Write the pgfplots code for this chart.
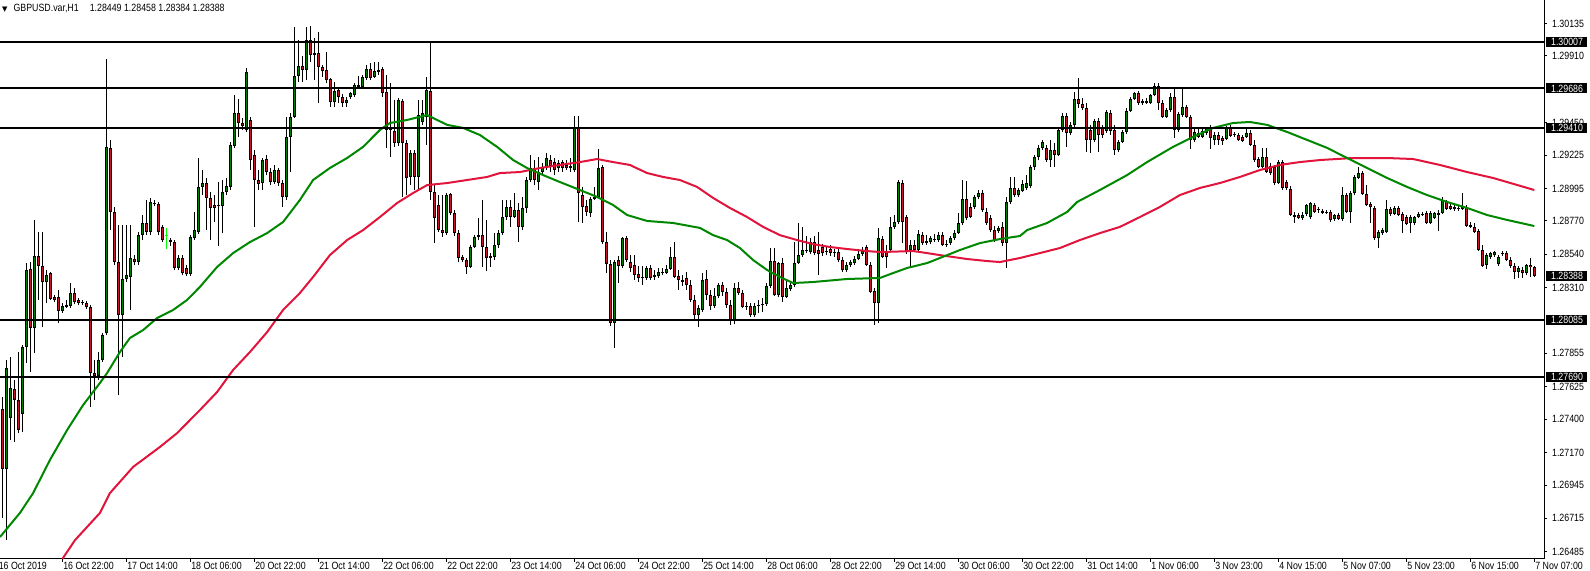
\documentclass[border=0pt]{standalone}
\usepackage{fontspec}
\setmainfont{Liberation Sans}[FakeStretch=0.84]
\newfontfamily\symfont{DejaVu Sans}
\usepackage{pgfplots}
\usepackage{pgfplotstable}
\pgfplotsset{compat=1.18}
\definecolor{bull}{RGB}{0,128,0}
\definecolor{bear}{RGB}{200,20,40}
\definecolor{magreen}{RGB}{0,135,0}
\definecolor{mared}{RGB}{225,20,60}
\definecolor{marked}{RGB}{0,255,0}
\newcommand\tinyfont{\fontsize{5.25}{6}\selectfont}

% GBPUSD H1 candles: bar index, open, high, low, close
\pgfplotstableread{
i o h l c
0 1.27471 1.27554 1.26718 1.27056
1 1.27056 1.27809 1.26565 1.27754
2 1.27408 1.27830 1.27256 1.27616
3 1.27609 1.27671 1.27242 1.27533
4 1.27533 1.27864 1.27304 1.27325
5 1.27435 1.27912 1.27311 1.27899
6 1.27899 1.28479 1.27788 1.28431
7 1.28438 1.28486 1.27726 1.28030
8 1.28030 1.28777 1.27857 1.28528
9 1.28528 1.28693 1.28224 1.28459
10 1.28459 1.28693 1.28037 1.28348
11 1.28348 1.28431 1.28203 1.28396
12 1.28410 1.28417 1.28224 1.28231
13 1.28245 1.28258 1.28210 1.28224
14 1.28245 1.28293 1.28064 1.28148
15 1.28148 1.28203 1.28134 1.28183
16 1.28176 1.28224 1.28169 1.28189
17 1.28183 1.28341 1.28169 1.28272
18 1.28272 1.28307 1.28196 1.28210
19 1.28224 1.28238 1.28189 1.28203
20 1.28203 1.28224 1.28189 1.28210
21 1.28203 1.28217 1.28162 1.28176
22 1.28176 1.28189 1.27485 1.27719
23 1.27719 1.27809 1.27533 1.27699
24 1.27699 1.27864 1.27671 1.27809
25 1.27809 1.27995 1.27795 1.27981
26 1.27995 1.29890 1.27981 1.29282
27 1.29275 1.29330 1.28707 1.28832
28 1.28832 1.28867 1.28465 1.28486
29 1.28486 1.28742 1.27567 1.28120
30 1.28120 1.28742 1.27830 1.28369
31 1.28369 1.28742 1.28348 1.28396
32 1.28383 1.28742 1.28155 1.28514
33 1.28507 1.28534 1.28465 1.28486
34 1.28486 1.28693 1.28465 1.28672
35 1.28672 1.28811 1.28638 1.28756
36 1.28756 1.28915 1.28672 1.28693
37 1.28693 1.28929 1.28672 1.28901
38 1.28887 1.28915 1.28874 1.28894
39 1.28887 1.28901 1.28672 1.28693
40 1.28729 1.28742 1.28624 1.28638
41 1.28672 1.28722 1.28576 1.28666
42 1.28638 1.28652 1.28597 1.28624
43 1.28624 1.28638 1.28431 1.28445
44 1.28445 1.28534 1.28431 1.28514
45 1.28514 1.28534 1.28396 1.28410
46 1.28445 1.28465 1.28389 1.28403
47 1.28403 1.28672 1.28389 1.28659
48 1.28652 1.28832 1.28638 1.28707
49 1.28693 1.29205 1.28679 1.29005
50 1.29005 1.29122 1.28949 1.29032
51 1.29032 1.29067 1.28707 1.28929
52 1.28929 1.28970 1.28638 1.28860
53 1.28880 1.28949 1.28763 1.28860
54 1.28874 1.29039 1.28597 1.28880
55 1.28874 1.29053 1.28686 1.28970
56 1.28970 1.29067 1.28949 1.29012
57 1.29005 1.29316 1.28984 1.29295
58 1.29289 1.29640 1.29275 1.29516
59 1.29516 1.29613 1.29351 1.29447
60 1.29447 1.29482 1.29399 1.29427
61 1.29399 1.29827 1.29385 1.29799
62 1.29468 1.29489 1.29122 1.29191
63 1.29225 1.29260 1.28729 1.29053
64 1.29053 1.29122 1.28984 1.29025
65 1.29032 1.29205 1.28984 1.29191
66 1.29198 1.29225 1.29087 1.29108
67 1.29108 1.29136 1.29018 1.29039
68 1.29039 1.29157 1.29025 1.29122
69 1.29122 1.29136 1.29012 1.29032
70 1.29032 1.29053 1.28867 1.28936
71 1.28936 1.29489 1.28915 1.29351
72 1.29351 1.29516 1.29108 1.29489
73 1.29489 1.30111 1.29482 1.29772
74 1.29772 1.30021 1.29730 1.29841
75 1.29841 1.29911 1.29730 1.29813
76 1.29813 1.30111 1.29744 1.30021
77 1.30021 1.30118 1.29868 1.29917
78 1.29917 1.30035 1.29744 1.29931
79 1.29931 1.30076 1.29585 1.29834
80 1.29834 1.29847 1.29765 1.29806
81 1.29813 1.29938 1.29723 1.29744
82 1.29751 1.29758 1.29558 1.29592
83 1.29592 1.29730 1.29558 1.29668
84 1.29675 1.29696 1.29585 1.29627
85 1.29627 1.29647 1.29558 1.29585
86 1.29585 1.29627 1.29558 1.29606
87 1.29627 1.29661 1.29613 1.29654
88 1.29640 1.29723 1.29627 1.29710
89 1.29696 1.29772 1.29689 1.29710
90 1.29696 1.29779 1.29689 1.29765
91 1.29758 1.29847 1.29744 1.29820
92 1.29820 1.29861 1.29744 1.29758
93 1.29765 1.29868 1.29758 1.29806
94 1.29799 1.29868 1.29779 1.29813
95 1.29820 1.29834 1.29627 1.29654
96 1.29661 1.29779 1.29275 1.29399
97 1.29420 1.29723 1.29212 1.29399
98 1.29392 1.29606 1.29282 1.29309
99 1.29309 1.29620 1.29289 1.29606
100 1.29599 1.29613 1.28936 1.29309
101 1.29309 1.29330 1.28949 1.29067
102 1.29074 1.29260 1.29018 1.29240
103 1.29240 1.29260 1.28984 1.29074
104 1.29074 1.29606 1.28984 1.29502
105 1.29454 1.29606 1.29434 1.29516
106 1.29489 1.29765 1.29295 1.29675
107 1.29668 1.30000 1.28915 1.28970
108 1.28970 1.29018 1.28617 1.28790
109 1.28880 1.28949 1.28693 1.28707
110 1.28707 1.28949 1.28659 1.28686
111 1.28686 1.28963 1.28672 1.28949
112 1.28956 1.28963 1.28811 1.28825
113 1.28825 1.28846 1.28666 1.28686
114 1.28686 1.28707 1.28486 1.28514
115 1.28521 1.28534 1.28486 1.28500
116 1.28500 1.28514 1.28403 1.28452
117 1.28452 1.28603 1.28445 1.28590
118 1.28590 1.28672 1.28583 1.28659
119 1.28659 1.28790 1.28638 1.28672
120 1.28672 1.28915 1.28452 1.28590
121 1.28590 1.28777 1.28424 1.28514
122 1.28528 1.28548 1.28452 1.28514
123 1.28521 1.28686 1.28500 1.28603
124 1.28603 1.28707 1.28583 1.28686
125 1.28686 1.28915 1.28672 1.28797
126 1.28797 1.28915 1.28777 1.28867
127 1.28867 1.28915 1.28729 1.28797
128 1.28797 1.28963 1.28790 1.28846
129 1.28846 1.28894 1.28624 1.28729
130 1.28729 1.28936 1.28707 1.28860
131 1.28860 1.29074 1.28825 1.29053
132 1.29053 1.29225 1.29039 1.29136
133 1.29136 1.29191 1.29018 1.29053
134 1.29039 1.29212 1.28984 1.29108
135 1.29108 1.29170 1.29087 1.29143
136 1.29143 1.29240 1.29122 1.29205
137 1.29191 1.29225 1.29108 1.29150
138 1.29177 1.29205 1.29087 1.29122
139 1.29136 1.29191 1.29108 1.29170
140 1.29177 1.29191 1.29108 1.29136
141 1.29157 1.29191 1.29122 1.29136
142 1.29150 1.29205 1.29108 1.29136
143 1.29122 1.29496 1.29108 1.29413
144 1.29413 1.29496 1.28763 1.28963
145 1.28949 1.29005 1.28756 1.28867
146 1.28874 1.28915 1.28805 1.28832
147 1.28825 1.28936 1.28797 1.28922
148 1.28922 1.29005 1.28915 1.28936
149 1.28936 1.29268 1.28929 1.29136
150 1.29143 1.29157 1.28610 1.28624
151 1.28624 1.28693 1.28410 1.28472
152 1.28472 1.28500 1.28044 1.28064
153 1.28064 1.28500 1.27892 1.28486
154 1.28500 1.28528 1.28341 1.28459
155 1.28459 1.28659 1.28445 1.28652
156 1.28652 1.28666 1.28486 1.28500
157 1.28486 1.28534 1.28417 1.28445
158 1.28465 1.28534 1.28362 1.28396
159 1.28403 1.28459 1.28348 1.28376
160 1.28376 1.28459 1.28327 1.28383
161 1.28376 1.28459 1.28362 1.28445
162 1.28445 1.28465 1.28362 1.28376
163 1.28383 1.28431 1.28362 1.28396
164 1.28389 1.28445 1.28376 1.28417
165 1.28417 1.28445 1.28396 1.28410
166 1.28410 1.28465 1.28403 1.28438
167 1.28438 1.28590 1.28431 1.28521
168 1.28521 1.28624 1.28376 1.28383
169 1.28389 1.28431 1.28293 1.28362
170 1.28362 1.28396 1.28321 1.28348
171 1.28376 1.28417 1.28293 1.28327
172 1.28327 1.28362 1.28210 1.28224
173 1.28224 1.28258 1.28085 1.28120
174 1.28120 1.28189 1.28037 1.28169
175 1.28155 1.28410 1.28141 1.28362
176 1.28369 1.28431 1.28224 1.28258
177 1.28258 1.28293 1.28155 1.28183
178 1.28183 1.28307 1.28169 1.28252
179 1.28252 1.28341 1.28238 1.28327
180 1.28327 1.28348 1.28252 1.28279
181 1.28279 1.28307 1.28169 1.28189
182 1.28189 1.28224 1.28050 1.28085
183 1.28085 1.28341 1.28057 1.28307
184 1.28307 1.28348 1.28258 1.28272
185 1.28272 1.28293 1.28169 1.28176
186 1.28176 1.28210 1.28155 1.28183
187 1.28183 1.28203 1.28106 1.28120
188 1.28120 1.28203 1.28106 1.28183
189 1.28183 1.28224 1.28134 1.28189
190 1.28189 1.28238 1.28141 1.28196
191 1.28196 1.28341 1.28183 1.28321
192 1.28321 1.28583 1.28307 1.28493
193 1.28493 1.28583 1.28252 1.28258
194 1.28258 1.28486 1.28245 1.28479
195 1.28479 1.28514 1.28210 1.28245
196 1.28245 1.28362 1.28238 1.28307
197 1.28300 1.28348 1.28286 1.28327
198 1.28327 1.28624 1.28314 1.28479
199 1.28479 1.28756 1.28472 1.28534
200 1.28534 1.28729 1.28521 1.28569
201 1.28562 1.28666 1.28548 1.28569
202 1.28555 1.28652 1.28541 1.28624
203 1.28624 1.28666 1.28534 1.28548
204 1.28569 1.28693 1.28396 1.28541
205 1.28590 1.28610 1.28528 1.28548
206 1.28555 1.28597 1.28534 1.28562
207 1.28576 1.28603 1.28528 1.28548
208 1.28548 1.28576 1.28521 1.28555
209 1.28555 1.28583 1.28486 1.28500
210 1.28500 1.28521 1.28417 1.28431
211 1.28431 1.28486 1.28417 1.28465
212 1.28465 1.28500 1.28452 1.28486
213 1.28479 1.28528 1.28465 1.28507
214 1.28507 1.28569 1.28500 1.28541
215 1.28541 1.28590 1.28528 1.28562
216 1.28590 1.28603 1.28459 1.28465
217 1.28465 1.28486 1.28272 1.28279
218 1.28286 1.28307 1.28050 1.28203
219 1.28203 1.28722 1.28064 1.28652
220 1.28645 1.28666 1.28514 1.28521
221 1.28555 1.28603 1.28445 1.28521
222 1.28569 1.28797 1.28555 1.28729
223 1.28729 1.28811 1.28715 1.28763
224 1.28763 1.29053 1.28749 1.29039
225 1.29032 1.29053 1.28617 1.28763
226 1.28797 1.28811 1.28541 1.28555
227 1.28569 1.28638 1.28452 1.28603
228 1.28603 1.28638 1.28555 1.28569
229 1.28569 1.28707 1.28555 1.28679
230 1.28672 1.28693 1.28603 1.28617
231 1.28617 1.28672 1.28603 1.28631
232 1.28624 1.28666 1.28610 1.28652
233 1.28645 1.28679 1.28624 1.28638
234 1.28638 1.28693 1.28624 1.28672
235 1.28672 1.28693 1.28597 1.28603
236 1.28610 1.28638 1.28590 1.28603
237 1.28617 1.28666 1.28603 1.28652
238 1.28652 1.28707 1.28638 1.28686
239 1.28686 1.28825 1.28679 1.28756
240 1.28756 1.29053 1.28742 1.28922
241 1.28922 1.29046 1.28777 1.28790
242 1.28867 1.28894 1.28790 1.28797
243 1.28867 1.28949 1.28853 1.28936
244 1.28936 1.28984 1.28922 1.28963
245 1.28963 1.28984 1.28832 1.28846
246 1.28832 1.28860 1.28742 1.28756
247 1.28790 1.28811 1.28693 1.28707
248 1.28707 1.28735 1.28624 1.28638
249 1.28700 1.28735 1.28686 1.28722
250 1.28729 1.28763 1.28597 1.28617
251 1.28617 1.28936 1.28445 1.28901
252 1.28901 1.29074 1.28887 1.28998
253 1.28998 1.29074 1.28936 1.28949
254 1.28949 1.28998 1.28936 1.28984
255 1.28977 1.29053 1.28970 1.29025
256 1.28998 1.29087 1.28984 1.29032
257 1.29012 1.29157 1.28998 1.29143
258 1.29143 1.29225 1.29122 1.29212
259 1.29212 1.29295 1.29191 1.29275
260 1.29275 1.29330 1.29260 1.29316
261 1.29275 1.29295 1.29177 1.29191
262 1.29191 1.29330 1.29143 1.29260
263 1.29260 1.29309 1.29143 1.29225
264 1.29225 1.29413 1.29218 1.29399
265 1.29399 1.29516 1.29385 1.29496
266 1.29496 1.29516 1.29282 1.29378
267 1.29378 1.29454 1.29364 1.29434
268 1.29434 1.29661 1.29420 1.29613
269 1.29613 1.29758 1.29551 1.29578
270 1.29578 1.29620 1.29537 1.29551
271 1.29551 1.29585 1.29246 1.29330
272 1.29399 1.29434 1.29240 1.29330
273 1.29330 1.29475 1.29316 1.29461
274 1.29461 1.29482 1.29246 1.29364
275 1.29420 1.29434 1.29344 1.29364
276 1.29392 1.29537 1.29378 1.29523
277 1.29516 1.29537 1.29364 1.29392
278 1.29399 1.29434 1.29225 1.29260
279 1.29260 1.29330 1.29246 1.29316
280 1.29316 1.29399 1.29309 1.29385
281 1.29385 1.29551 1.29371 1.29530
282 1.29530 1.29627 1.29523 1.29613
283 1.29613 1.29661 1.29606 1.29654
284 1.29654 1.29668 1.29571 1.29585
285 1.29585 1.29613 1.29571 1.29599
286 1.29585 1.29620 1.29578 1.29599
287 1.29585 1.29647 1.29578 1.29640
288 1.29640 1.29723 1.29633 1.29703
289 1.29703 1.29723 1.29537 1.29585
290 1.29585 1.29606 1.29482 1.29489
291 1.29489 1.29551 1.29482 1.29537
292 1.29537 1.29654 1.29523 1.29627
293 1.29627 1.29689 1.29344 1.29399
294 1.29399 1.29523 1.29385 1.29509
295 1.29502 1.29682 1.29489 1.29558
296 1.29558 1.29571 1.29482 1.29489
297 1.29489 1.29502 1.29268 1.29330
298 1.29330 1.29420 1.29316 1.29385
299 1.29378 1.29413 1.29344 1.29351
300 1.29351 1.29413 1.29344 1.29392
301 1.29378 1.29420 1.29364 1.29413
302 1.29413 1.29434 1.29268 1.29344
303 1.29330 1.29385 1.29295 1.29364
304 1.29364 1.29385 1.29295 1.29330
305 1.29344 1.29358 1.29295 1.29323
306 1.29337 1.29427 1.29330 1.29413
307 1.29413 1.29434 1.29351 1.29358
308 1.29364 1.29385 1.29351 1.29371
309 1.29364 1.29378 1.29323 1.29330
310 1.29351 1.29364 1.29316 1.29323
311 1.29351 1.29406 1.29344 1.29378
312 1.29378 1.29399 1.29289 1.29295
313 1.29295 1.29330 1.29177 1.29191
314 1.29198 1.29212 1.29136 1.29143
315 1.29143 1.29275 1.29136 1.29212
316 1.29212 1.29275 1.29101 1.29108
317 1.29150 1.29170 1.29087 1.29101
318 1.29143 1.29157 1.29018 1.29032
319 1.29032 1.29191 1.29025 1.29177
320 1.29177 1.29191 1.28984 1.28998
321 1.29039 1.29053 1.28984 1.28998
322 1.28991 1.29012 1.28805 1.28811
323 1.28811 1.28832 1.28756 1.28797
324 1.28811 1.28825 1.28784 1.28790
325 1.28790 1.28832 1.28777 1.28811
326 1.28818 1.28887 1.28805 1.28880
327 1.28797 1.28901 1.28784 1.28894
328 1.28880 1.28894 1.28825 1.28832
329 1.28846 1.28867 1.28825 1.28846
330 1.28839 1.28853 1.28818 1.28825
331 1.28832 1.28846 1.28818 1.28825
332 1.28832 1.28846 1.28763 1.28777
333 1.28784 1.28818 1.28770 1.28811
334 1.28811 1.28825 1.28777 1.28784
335 1.28784 1.29005 1.28770 1.28949
336 1.28949 1.28963 1.28825 1.28832
337 1.28832 1.28977 1.28756 1.28963
338 1.28963 1.29087 1.28949 1.29074
339 1.29067 1.29143 1.29060 1.29101
340 1.29101 1.29115 1.28949 1.28956
341 1.28956 1.29018 1.28874 1.28880
342 1.28887 1.28901 1.28756 1.28867
343 1.28860 1.28874 1.28638 1.28652
344 1.28652 1.28707 1.28583 1.28693
345 1.28686 1.28722 1.28672 1.28707
346 1.28693 1.28915 1.28686 1.28853
347 1.28853 1.28867 1.28805 1.28818
348 1.28818 1.28874 1.28811 1.28860
349 1.28860 1.28874 1.28805 1.28811
350 1.28818 1.28832 1.28686 1.28770
351 1.28797 1.28811 1.28742 1.28749
352 1.28756 1.28811 1.28686 1.28797
353 1.28756 1.28805 1.28742 1.28797
354 1.28797 1.28832 1.28790 1.28818
355 1.28818 1.28832 1.28805 1.28811
356 1.28825 1.28839 1.28749 1.28756
357 1.28756 1.28839 1.28749 1.28825
358 1.28790 1.28832 1.28784 1.28825
359 1.28825 1.28846 1.28700 1.28811
360 1.28825 1.28936 1.28818 1.28915
361 1.28901 1.28915 1.28846 1.28853
362 1.28874 1.28887 1.28846 1.28853
363 1.28867 1.28880 1.28839 1.28853
364 1.28853 1.28874 1.28839 1.28860
365 1.28853 1.28963 1.28846 1.28867
366 1.28867 1.28880 1.28729 1.28735
367 1.28742 1.28763 1.28722 1.28729
368 1.28729 1.28756 1.28686 1.28693
369 1.28700 1.28714 1.28562 1.28569
370 1.28569 1.28603 1.28452 1.28459
371 1.28465 1.28548 1.28438 1.28534
372 1.28521 1.28555 1.28507 1.28548
373 1.28534 1.28562 1.28521 1.28555
374 1.28472 1.28534 1.28459 1.28521
375 1.28541 1.28562 1.28528 1.28541
376 1.28548 1.28562 1.28493 1.28500
377 1.28500 1.28521 1.28445 1.28459
378 1.28459 1.28479 1.28369 1.28417
379 1.28417 1.28459 1.28376 1.28445
380 1.28431 1.28452 1.28376 1.28410
381 1.28410 1.28472 1.28396 1.28465
382 1.28465 1.28514 1.28383 1.28449
383 1.28449 1.28458 1.28384 1.28388
}\candles

\begin{document}
\begin{tikzpicture}
\begin{axis}[
  at={(0,0)}, anchor=south west,
  x=2pt, y=7235.3pt,
  xmin=-0.575, xmax=385.425, ymin=1.26434, ymax=1.30297,
  clip=false,
  axis x line*=bottom, axis y line*=right,
  xtick pos=left, xticklabel pos=left,
  ytick pos=right, yticklabel pos=right,
  axis line style={black, line width=0.5pt},
  tick align=outside, major tick length=1.5pt,
  tick style={black, line width=0.5pt},
  minor tick num=0,
  xtick={15,31,47,63,79,95,111,127,143,159,175,191,207,223,239,255,271,287,303,319,335,351,367,383},
  xticklabels={16 Oct 22:00,17 Oct 14:00,18 Oct 06:00,20 Oct 22:00,21 Oct 14:00,22 Oct 06:00,22 Oct 22:00,23 Oct 14:00,24 Oct 06:00,24 Oct 22:00,25 Oct 14:00,28 Oct 06:00,28 Oct 22:00,29 Oct 14:00,30 Oct 06:00,30 Oct 22:00,31 Oct 14:00,1 Nov 06:00,3 Nov 23:00,4 Nov 15:00,5 Nov 07:00,5 Nov 23:00,6 Nov 15:00,7 Nov 07:00},
  ytick={1.26485,1.26715,1.26945,1.27170,1.27400,1.27625,1.27855,1.28310,1.28540,1.28770,1.28995,1.29225,1.29450,1.29910,1.30135},
  yticklabels={1.26485,1.26715,1.26945,1.27170,1.27400,1.27625,1.27855,1.28310,1.28540,1.28770,1.28995,1.29225,1.29450,1.29910,1.30135},
  xticklabel style={font=\tinyfont, anchor=north west, inner sep=0pt, xshift=0.3pt},
  yticklabel style={font=\tinyfont, anchor=west, inner sep=0pt, xshift=2.35pt},
  after end axis/.code={
    \foreach \v in {1.30007,1.29686,1.29410,1.28085,1.27690,1.28388}{
      \node[anchor=west, fill=black, text=white, font=\tinyfont, inner xsep=2.35pt,
            inner ysep=0pt, minimum height=5pt, text width=15.5pt, xshift=1pt]
        at (axis cs:385.425,\v) {\v};
    }
    \node[anchor=north west, inner sep=0pt, font=\tinyfont, xshift=-0.8pt, yshift=-1.5pt]
      at (axis cs:-0.575,1.26434) {16 Oct 2019};
    \node[anchor=north west, inner sep=0pt, font=\tinyfont, xshift=0.9pt, yshift=-2pt]
      at (axis cs:-0.575,1.30297)
      {{\symfont\fontsize{3.5}{4}\selectfont ▼}\hspace{3pt}GBPUSD.var,H1\hspace{5.5pt}1.28449 1.28458 1.28384 1.28388};
  },
]
% wicks
\addplot[draw=none, mark=none, forget plot,
  error bars/.cd, y dir=plus, y explicit, error mark=none,
  error bar style={draw=black, line width=0.5pt}]
  table[x=i, y=l, y error plus expr={\thisrow{h}-\thisrow{l}}]{\candles};
% body outlines
\addplot[draw=none, mark=none, forget plot,
  error bars/.cd, y dir=plus, y explicit, error mark=none,
  error bar style={draw=black, line width=1.5pt}]
  table[x=i, y expr={min(\thisrow{o},\thisrow{c})},
        y error plus expr={max(abs(\thisrow{c}-\thisrow{o}),0.00007)}]{\candles};
% bull body fill
\addplot[draw=none, mark=none, forget plot,
  restrict expr to domain={\thisrow{c}-\thisrow{o}}{0.00014:1},
  error bars/.cd, y dir=plus, y explicit, error mark=none,
  error bar style={draw=bull, line width=0.5pt}]
  table[x=i, y expr={\thisrow{o}+0.00007},
        y error plus expr={\thisrow{c}-\thisrow{o}-0.00014}]{\candles};
% bear body fill
\addplot[draw=none, mark=none, forget plot,
  restrict expr to domain={\thisrow{o}-\thisrow{c}}{0.00014:1},
  error bars/.cd, y dir=plus, y explicit, error mark=none,
  error bar style={draw=bear, line width=0.5pt}]
  table[x=i, y expr={\thisrow{c}+0.00007},
        y error plus expr={\thisrow{o}-\thisrow{c}-0.00014}]{\candles};
% the one highlighted (lime) candle, bar 41
\addplot[draw=none, mark=none, forget plot,
  restrict expr to domain={\thisrow{i}}{40.5:41.5},
  error bars/.cd, y dir=plus, y explicit, error mark=none,
  error bar style={draw=marked, line width=0.5pt}]
  table[x=i, y=l, y error plus expr={\thisrow{h}-\thisrow{l}}]{\candles};
\addplot[draw=none, mark=none, forget plot,
  restrict expr to domain={\thisrow{i}}{40.5:41.5},
  error bars/.cd, y dir=plus, y explicit, error mark=none,
  error bar style={draw=marked, line width=1.5pt}]
  table[x=i, y expr={min(\thisrow{o},\thisrow{c})},
        y error plus expr={max(abs(\thisrow{c}-\thisrow{o}),0.00007)}]{\candles};

% slow moving average (red)
\addplot[mared, line width=1pt, mark=none] coordinates {
(15.0,1.26434) (18.2,1.26565) (24.4,1.26752) (26.9,1.26889) (32.7,1.27070) (39.4,1.27208)
(43.7,1.27304) (49.4,1.27463) (53.7,1.27588) (57.7,1.27740) (61.9,1.27864) (66.2,1.28002)
(70.2,1.28155) (74.4,1.28272) (77.7,1.28383) (81.9,1.28534) (86.2,1.28638) (90.2,1.28707)
(94.4,1.28797) (98.7,1.28894) (102.7,1.28963) (106.2,1.29018) (111.2,1.29032) (116.2,1.29053)
(121.2,1.29074) (124.4,1.29101) (129.4,1.29108) (134.4,1.29136) (139.4,1.29157) (144.4,1.29177)
(148.7,1.29198) (152.7,1.29177) (156.9,1.29157) (161.2,1.29101) (165.2,1.29074) (169.4,1.29053)
(173.7,1.29005) (177.7,1.28929) (181.9,1.28860) (186.2,1.28797) (190.2,1.28729) (194.4,1.28672)
(198.7,1.28638) (202.7,1.28610) (206.9,1.28590) (211.2,1.28576) (216.2,1.28562) (219.4,1.28555)
(227.7,1.28562) (231.2,1.28548) (234.4,1.28534) (237.7,1.28521) (241.2,1.28507) (246.2,1.28493)
(249.4,1.28486) (254.4,1.28514) (259.4,1.28548) (264.4,1.28583) (269.4,1.28638) (274.4,1.28686)
(279.4,1.28729) (284.4,1.28797) (289.4,1.28867) (294.4,1.28949) (299.4,1.28998) (304.4,1.29032)
(309.4,1.29074) (314.4,1.29122) (319.4,1.29157) (324.4,1.29177) (329.4,1.29191) (337.7,1.29205)
(346.2,1.29205) (352.7,1.29198) (359.4,1.29157) (366.2,1.29108) (372.7,1.29067) (383,1.28984)
};
% fast moving average (green)
\addplot[magreen, line width=1pt, mark=none] coordinates {
(-0.575,1.26586) (4.4,1.26752) (7.7,1.26889) (11.9,1.27118) (16.2,1.27325) (20.2,1.27498)
(24.4,1.27650) (26.2,1.27719) (29.4,1.27864) (31.9,1.27961) (35.2,1.28016) (38.7,1.28099)
(42.7,1.28155) (46.2,1.28224) (49.4,1.28314) (53.7,1.28452) (57.7,1.28548) (61.9,1.28624)
(66.2,1.28686) (70.2,1.28763) (74.4,1.28915) (77.7,1.29053) (81.9,1.29136) (86.2,1.29205)
(90.2,1.29282) (94.4,1.29399) (96.9,1.29447) (101.2,1.29468) (106.2,1.29502) (111.2,1.29434)
(115.2,1.29413) (119.4,1.29364) (123.7,1.29282) (127.7,1.29191) (131.2,1.29136) (135.2,1.29087)
(139.4,1.29039) (144.4,1.28984) (148.7,1.28936) (152.7,1.28880) (156.2,1.28811) (161.2,1.28770)
(167.7,1.28756) (174.4,1.28722) (177.7,1.28672) (181.2,1.28638) (184.4,1.28583) (187.7,1.28500)
(191.2,1.28431) (194.4,1.28383) (197.7,1.28341) (202.7,1.28348) (211.2,1.28369) (219.4,1.28376)
(222.7,1.28410) (226.2,1.28445) (231.2,1.28479) (234.4,1.28514) (239.4,1.28569) (244.4,1.28617)
(249.4,1.28645) (254.4,1.28666) (256.2,1.28707) (261.2,1.28756) (266.2,1.28832) (268.7,1.28901)
(274.4,1.28984) (281.2,1.29087) (286.2,1.29177) (292.7,1.29282) (297.7,1.29351) (302.7,1.29413)
(307.7,1.29447) (311.9,1.29454) (316.2,1.29434) (321.2,1.29385) (326.2,1.29330) (331.2,1.29275)
(336.2,1.29205) (341.2,1.29136) (346.2,1.29067) (351.2,1.29005) (356.2,1.28949) (361.2,1.28901)
(366.2,1.28860) (371.2,1.28811) (376.2,1.28777) (383,1.28735)
};
% horizontal levels
\addplot[black, line width=1pt, mark=none] coordinates {(-0.575,1.30007) (385.425,1.30007)};
\addplot[black, line width=1pt, mark=none] coordinates {(-0.575,1.29686) (385.425,1.29686)};
\addplot[black, line width=1pt, mark=none] coordinates {(-0.575,1.29410) (385.425,1.29410)};
\addplot[black, line width=1pt, mark=none] coordinates {(-0.575,1.28085) (385.425,1.28085)};
\addplot[black, line width=1pt, mark=none] coordinates {(-0.575,1.27690) (385.425,1.27690)};
\end{axis}
\pgfresetboundingbox
\path[use as bounding box] (0,-6pt) rectangle (795pt,279.5pt);
\end{tikzpicture}
\end{document}
